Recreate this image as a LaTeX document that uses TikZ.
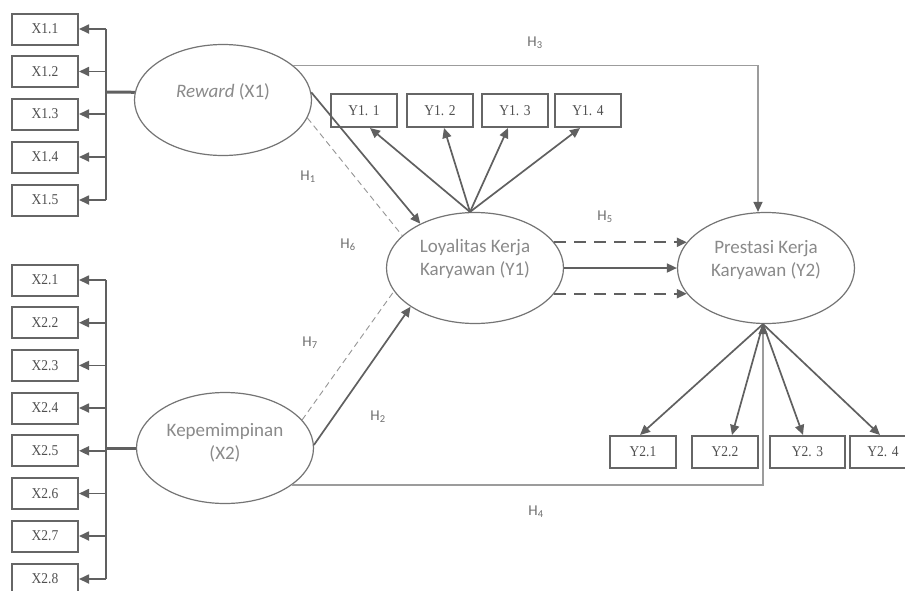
\documentclass[tikz,border=0pt]{standalone}
\usepackage{fontspec}
\setmainfont{Liberation Serif}
\newfontfamily\elfont{Carlito}
\newfontfamily\boxfont[FakeStretch=0.9]{Liberation Serif}
\usetikzlibrary{shapes.geometric,arrows.meta}
\definecolor{ln}{HTML}{606060}
\definecolor{boxc}{HTML}{666666}
\definecolor{elc}{HTML}{747474}
\definecolor{etc}{HTML}{8A8A8A}
\definecolor{btc}{HTML}{505050}
\definecolor{hc}{HTML}{9C9C9C}
\definecolor{tdc}{HTML}{959595}
\definecolor{hlc}{HTML}{707070}
\begin{document}
\begin{tikzpicture}[x=1pt,y=-1pt,
 ell/.style={ellipse, draw=elc, line width=1.2pt, minimum width=177pt, minimum height=111pt, inner sep=0pt},
 etxt/.style={font=\elfont\fontsize{19}{23}\selectfont, text=etc, align=center, inner sep=0pt},
 ind/.style={draw=boxc, line width=2pt, minimum width=66pt, minimum height=31pt, inner sep=0pt, font=\boxfont\fontsize{15}{16}\selectfont, text=btc},
 arr/.style={draw=ln, line width=1.7pt, -{Triangle[length=10pt,width=9pt,color=ln]}},
 bus/.style={draw=ln, line width=1.7pt},
 hline/.style={draw=hc, line width=1.4pt, -{Triangle[length=10pt,width=9pt,color=ln]}},
 hdash/.style={dash pattern=on 12pt off 8pt, line width=2pt},
 tdash/.style={draw=tdc, line width=0.9pt, dash pattern=on 6pt off 4pt},
 hlab/.style={font=\elfont\fontsize{15}{18}\selectfont, text=hlc, inner sep=0pt}]
\useasboundingbox (0,0) rectangle (905,590);
\fill[white] (0,0) rectangle (905,590);

% latent variables
\node[ell] (x1) at (223,100) {};
\node[etxt] (x1t) at (223,92) {\textit{Reward} (X1)};
\node[ell] (x2) at (225,448) {};
\node[etxt] (x2t) at (225,443) {Kepemimpinan\\(X2)};
\node[ell] (y1) at (475,268) {};
\node[etxt] (y1t) at (475,259) {Loyalitas Kerja\\Karyawan (Y1)};
\node[ell] (y2) at (766,268) {};
\node[etxt] (y2t) at (766,260) {Prestasi Kerja\\Karyawan (Y2)};

% indicators X1
\foreach \i/\y in {1/29,2/71.5,3/114,4/157,5/200}
  \node[ind] (x1\i) at (45,\y) {X1.\i};
% indicators X2
\foreach \i/\y in {1/280,2/322.7,3/365.4,4/408,5/450.8,6/493.5,7/536,8/579}
  \node[ind] (x2\i) at (45,\y) {X2.\i};
% indicators Y1
\node[ind, minimum height=33pt] (y11) at (364,110.5) {Y1. 1};
\node[ind, minimum height=33pt] (y12) at (440,110.5) {Y1. 2};
\node[ind, minimum height=33pt] (y13) at (515,110.5) {Y1. 3};
\node[ind, minimum height=33pt] (y14) at (588,110.5) {Y1. 4};
% indicators Y2
\node[ind, minimum height=32pt] (y21) at (643,452) {Y2.1};
\node[ind, minimum height=32pt] (y22) at (725,452) {Y2.2};
\node[ind, minimum height=32pt, minimum width=75pt] (y23) at (807.5,452) {Y2. 3};
\node[ind, minimum height=32pt] (y24) at (883,452) {Y2. 4};

% X1 bus
\coordinate (b1) at (106,92);
\draw[bus, line width=3pt] (x1.175) -- (b1);
\draw[bus] (b1 |- x11) -- (b1 |- x15);
\foreach \i in {1,...,5} \draw[arr] (b1 |- x1\i) -- (x1\i.east);
% X2 bus
\coordinate (b2) at (106,448);
\draw[bus, line width=3pt] (x2.west) -- (b2);
\draw[bus] (b2 |- x21) -- (b2 |- x28);
\foreach \i in {1,...,8} \draw[arr] (b2 |- x2\i) -- (x2\i.east);

% Y1 loadings
\coordinate (y1top) at ([xshift=-5pt]y1.north);
\draw[arr] (y1top) -- ([xshift=6pt]y11.south);
\draw[arr] (y1top) -- ([xshift=4pt]y12.south);
\draw[arr] (y1top) -- ([xshift=-7pt]y13.south);
\draw[arr] (y1top) -- ([xshift=-8pt]y14.south);

% Y2 loadings
\coordinate (y2b) at ([xshift=-3pt]y2.south);
\draw[arr] (y2b) -- ([xshift=-3pt]y21.north);
\draw[arr] (y2b) -- ([xshift=7pt]y22.north);
\draw[arr] (y2b) -- ([xshift=-4.5pt]y23.north);
\draw[arr] (y2b) -- ([xshift=-3pt]y24.north);

% structural paths
\draw[arr] (x1.5) -- (y1.141);
\draw[tdash] (x1.-12) -- (y1.156);
\draw[arr] (x2.2) -- (y1.211);
\draw[tdash] (x2.20) -- (y1.196);
\draw[hline] (x1.26) -| ([xshift=-8pt]y2.north);
\draw[hline] (x2.-29) -| (y2b);
\draw[arr, hdash] (y1.18) -- (y2.162);
\draw[arr] (y1.east) -- (y2.west);
\draw[arr, hdash] (y1.-18) -- (y2.-162);

% hypothesis labels
\node[hlab] (h1) at (308,177) {H\textsubscript{1}};
\node[hlab] (h2) at (378,417) {H\textsubscript{2}};
\node[hlab] (h3) at (535,43) {H\textsubscript{3}};
\node[hlab] (h4) at (536,512) {H\textsubscript{4}};
\node[hlab] (h5) at (605,217) {H\textsubscript{5}};
\node[hlab] (h6) at (348,245) {H\textsubscript{6}};
\node[hlab] (h7) at (310,343) {H\textsubscript{7}};
\end{tikzpicture}
\end{document}
